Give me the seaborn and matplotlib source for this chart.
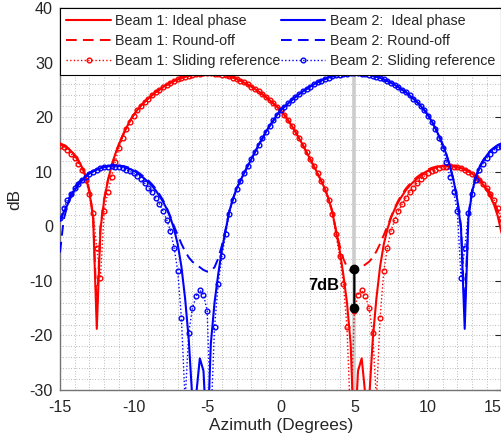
import matplotlib
matplotlib.use("Agg")
import matplotlib.pyplot as plt
from matplotlib.ticker import MultipleLocator
import pandas as pd
import seaborn as sns

# ---------------- data ----------------
AZ_BEAM1 = [
    -15.0, -14.75, -14.5, -14.25, -14.0, -13.75, -13.5, -13.25,
    -13.0, -12.75, -12.5, -12.25, -12.0, -11.75, -11.5, -11.25,
    -11.0, -10.75, -10.5, -10.25, -10.0, -9.75, -9.5, -9.25,
    -9.0, -8.75, -8.5, -8.25, -8.0, -7.75, -7.5, -7.25,
    -7.0, -6.75, -6.5, -6.25, -6.0, -5.75, -5.5, -5.25,
    -5.0, -4.75, -4.5, -4.25, -4.0, -3.75, -3.5, -3.25,
    -3.0, -2.75, -2.5, -2.25, -2.0, -1.75, -1.5, -1.25,
    -1.0, -0.75, -0.5, -0.25, 0.0, 0.25, 0.5, 0.75,
    1.0, 1.25, 1.5, 1.75, 2.0, 2.25, 2.5, 2.75,
    3.0, 3.25, 3.5, 3.75, 4.0, 4.25, 4.5, 4.75,
    5.0, 5.25, 5.5, 5.75, 6.0, 6.25, 6.5, 6.75,
    7.0, 7.25, 7.5, 7.75, 8.0, 8.25, 8.5, 8.75,
    9.0, 9.25, 9.5, 9.75, 10.0, 10.25, 10.5, 10.75,
    11.0, 11.25, 11.5, 11.75, 12.0, 12.25, 12.5, 12.75,
    13.0, 13.25, 13.5, 13.75, 14.0, 14.25, 14.5, 14.75,
    15.0,
]

B1_IDEAL = [
    15.2, 14.9, 14.4, 13.8, 13.0, 12.0, 10.8, 9.0,
    6.3, 1.5, -18.8, -0.5, 4.8, 8.3, 11.0, 13.2,
    15.0, 16.6, 18.0, 19.3, 20.4, 21.3, 22.1, 22.8,
    23.4, 24.0, 24.6, 25.0, 25.5, 25.9, 26.3, 26.6,
    26.9, 27.2, 27.4, 27.6, 27.75, 27.85, 27.95, 28.0,
    28.0, 28.0, 27.95, 27.9, 27.8, 27.65, 27.45, 27.25,
    27.0, 26.7, 26.35, 26.0, 25.6, 25.15, 24.7, 24.2,
    23.7, 23.1, 22.5, 21.9, 21.3, 20.4, 19.4, 18.4,
    17.3, 16.1, 14.9, 13.6, 12.3, 11.0, 9.7, 8.3,
    6.9, 5.0, 2.7, -0.8, -4.3, -8.8, -14.0, -21.5,
    -40.0, -26.5, -24.2, -31.0, -32.0, -20.8, -13.2, -7.4,
    -3.3, -0.5, 1.6, 3.2, 4.5, 5.6, 6.6, 7.4,
    8.1, 8.7, 9.3, 9.8, 10.2, 10.5, 10.8, 10.95,
    11.05, 11.1, 11.1, 11.0, 10.85, 10.65, 10.4, 10.05,
    9.65, 9.1, 8.4, 7.6, 6.6, 5.4, 3.9, 1.8,
    -1.2,
]

B1_ROUND = [
    15.0, 14.8, 14.4, 13.9, 13.1, 12.1, 10.9, 9.2,
    6.6, 2.0, -15.5, 0.0, 5.0, 8.4, 11.0, 13.2,
    15.0, 16.6, 18.0, 19.3, 20.4, 21.3, 22.1, 22.8,
    23.4, 24.0, 24.6, 25.0, 25.5, 25.9, 26.3, 26.6,
    26.9, 27.2, 27.4, 27.6, 27.75, 27.85, 27.95, 28.0,
    28.0, 28.0, 27.95, 27.9, 27.8, 27.65, 27.45, 27.25,
    27.0, 26.7, 26.35, 26.0, 25.6, 25.15, 24.7, 24.2,
    23.7, 23.1, 22.5, 21.9, 21.3, 20.4, 19.4, 18.4,
    17.3, 16.1, 14.9, 13.6, 12.3, 11.0, 9.7, 8.3,
    6.9, 5.0, 2.8, -0.6, -3.5, -5.9, -7.5, -8.2,
    -8.3, -8.0, -7.5, -7.0, -6.5, -5.7, -4.6, -3.2,
    -1.6, 0.0, 1.8, 3.4, 4.8, 5.9, 6.9, 7.7,
    8.4, 9.0, 9.5, 10.0, 10.4, 10.7, 10.9, 11.05,
    11.1, 11.15, 11.1, 11.0, 10.9, 10.7, 10.45, 10.15,
    9.8, 9.3, 8.7, 8.0, 7.1, 6.0, 4.6, 2.8,
    0.6,
]

B1_SLIDE = [
    14.8, 14.5, 14.0, 13.3, 12.5, 11.5, 10.3, 8.5,
    5.9, 2.4, -4.0, -9.5, 2.8, 6.2, 9.0, 11.8,
    14.3, 16.2, 17.8, 19.2, 20.3, 21.3, 22.1, 22.8,
    23.4, 24.0, 24.6, 25.0, 25.5, 25.9, 26.3, 26.6,
    26.9, 27.2, 27.4, 27.6, 27.75, 27.85, 27.95, 28.0,
    28.0, 28.0, 27.95, 27.9, 27.8, 27.65, 27.45, 27.25,
    27.0, 26.7, 26.35, 26.0, 25.6, 25.15, 24.7, 24.2,
    23.7, 23.1, 22.5, 21.9, 21.3, 20.4, 19.4, 18.4,
    17.3, 16.1, 14.9, 13.6, 12.3, 11.0, 9.7, 8.3,
    6.8, 4.8, 2.3, -1.5, -5.5, -10.5, -18.5, -36.0,
    -15.5, -12.5, -11.7, -12.8, -15.0, -19.5, -32.0, -16.8,
    -8.2, -3.9, -0.8, 1.2, 2.8, 4.1, 5.2, 6.2,
    7.1, 7.9, 8.6, 9.2, 9.7, 10.1, 10.4, 10.7,
    10.85, 10.95, 11.0, 10.95, 10.8, 10.6, 10.3, 10.0,
    9.6, 9.1, 8.5, 7.8, 7.0, 6.0, 4.8, 3.3,
    1.5,
]

AZ_BEAM2 = [
    15.0, 14.75, 14.5, 14.25, 14.0, 13.75, 13.5, 13.25,
    13.0, 12.75, 12.5, 12.25, 12.0, 11.75, 11.5, 11.25,
    11.0, 10.75, 10.5, 10.25, 10.0, 9.75, 9.5, 9.25,
    9.0, 8.75, 8.5, 8.25, 8.0, 7.75, 7.5, 7.25,
    7.0, 6.75, 6.5, 6.25, 6.0, 5.75, 5.5, 5.25,
    5.0, 4.75, 4.5, 4.25, 4.0, 3.75, 3.5, 3.25,
    3.0, 2.75, 2.5, 2.25, 2.0, 1.75, 1.5, 1.25,
    1.0, 0.75, 0.5, 0.25, 0.0, -0.25, -0.5, -0.75,
    -1.0, -1.25, -1.5, -1.75, -2.0, -2.25, -2.5, -2.75,
    -3.0, -3.25, -3.5, -3.75, -4.0, -4.25, -4.5, -4.75,
    -5.0, -5.25, -5.5, -5.75, -6.0, -6.25, -6.5, -6.75,
    -7.0, -7.25, -7.5, -7.75, -8.0, -8.25, -8.5, -8.75,
    -9.0, -9.25, -9.5, -9.75, -10.0, -10.25, -10.5, -10.75,
    -11.0, -11.25, -11.5, -11.75, -12.0, -12.25, -12.5, -12.75,
    -13.0, -13.25, -13.5, -13.75, -14.0, -14.25, -14.5, -14.75,
    -15.0,
]

B2_IDEAL = [
    15.2, 14.9, 14.4, 13.8, 13.0, 12.0, 10.8, 9.0,
    6.3, 1.5, -18.8, -0.5, 4.8, 8.3, 11.0, 13.2,
    15.0, 16.6, 18.0, 19.3, 20.4, 21.3, 22.1, 22.8,
    23.4, 24.0, 24.6, 25.0, 25.5, 25.9, 26.3, 26.6,
    26.9, 27.2, 27.4, 27.6, 27.75, 27.85, 27.95, 28.0,
    28.0, 28.0, 27.95, 27.9, 27.8, 27.65, 27.45, 27.25,
    27.0, 26.7, 26.35, 26.0, 25.6, 25.15, 24.7, 24.2,
    23.7, 23.1, 22.5, 21.9, 21.3, 20.4, 19.4, 18.4,
    17.3, 16.1, 14.9, 13.6, 12.3, 11.0, 9.7, 8.3,
    6.9, 5.0, 2.7, -0.8, -4.3, -8.8, -14.0, -21.5,
    -40.0, -26.5, -24.2, -31.0, -32.0, -20.8, -13.2, -7.4,
    -3.3, -0.5, 1.6, 3.2, 4.5, 5.6, 6.6, 7.4,
    8.1, 8.7, 9.3, 9.8, 10.2, 10.5, 10.8, 10.95,
    11.05, 11.1, 11.1, 11.0, 10.85, 10.65, 10.4, 10.05,
    9.65, 9.1, 8.4, 7.6, 6.6, 5.4, 3.9, 2.6,
    1.0,
]

B2_ROUND = [
    15.0, 14.8, 14.4, 13.9, 13.1, 12.1, 10.9, 9.2,
    6.6, 2.0, -15.5, 0.0, 5.0, 8.4, 11.0, 13.2,
    15.0, 16.6, 18.0, 19.3, 20.4, 21.3, 22.1, 22.8,
    23.4, 24.0, 24.6, 25.0, 25.5, 25.9, 26.3, 26.6,
    26.9, 27.2, 27.4, 27.6, 27.75, 27.85, 27.95, 28.0,
    28.0, 28.0, 27.95, 27.9, 27.8, 27.65, 27.45, 27.25,
    27.0, 26.7, 26.35, 26.0, 25.6, 25.15, 24.7, 24.2,
    23.7, 23.1, 22.5, 21.9, 21.3, 20.4, 19.4, 18.4,
    17.3, 16.1, 14.9, 13.6, 12.3, 11.0, 9.7, 8.3,
    6.9, 5.0, 2.8, -0.6, -3.5, -5.9, -7.5, -8.2,
    -8.3, -8.0, -7.5, -7.0, -6.5, -5.7, -4.6, -3.2,
    -1.6, 0.0, 1.8, 3.4, 4.8, 5.9, 6.9, 7.7,
    8.4, 9.0, 9.5, 10.0, 10.4, 10.7, 10.9, 11.05,
    11.1, 11.15, 11.1, 11.0, 10.9, 10.7, 10.45, 10.15,
    9.8, 9.3, 8.7, 8.0, 7.1, 6.0, 3.8, 1.2,
    -4.8,
]

B2_SLIDE = [
    14.8, 14.5, 14.0, 13.3, 12.5, 11.5, 10.3, 8.5,
    5.9, 2.4, -4.0, -9.5, 2.8, 6.2, 9.0, 11.8,
    14.3, 16.2, 17.8, 19.2, 20.3, 21.3, 22.1, 22.8,
    23.4, 24.0, 24.6, 25.0, 25.5, 25.9, 26.3, 26.6,
    26.9, 27.2, 27.4, 27.6, 27.75, 27.85, 27.95, 28.0,
    28.0, 28.0, 27.95, 27.9, 27.8, 27.65, 27.45, 27.25,
    27.0, 26.7, 26.35, 26.0, 25.6, 25.15, 24.7, 24.2,
    23.7, 23.1, 22.5, 21.9, 21.3, 20.4, 19.4, 18.4,
    17.3, 16.1, 14.9, 13.6, 12.3, 11.0, 9.7, 8.3,
    6.8, 4.8, 2.3, -1.5, -5.5, -10.5, -18.5, -36.0,
    -15.5, -12.5, -11.7, -12.8, -15.0, -19.5, -32.0, -16.8,
    -8.2, -3.9, -0.8, 1.2, 2.8, 4.1, 5.2, 6.2,
    7.1, 7.9, 8.6, 9.2, 9.7, 10.1, 10.4, 10.7,
    10.85, 10.95, 11.0, 10.95, 10.8, 10.6, 10.3, 10.0,
    9.6, 9.1, 8.5, 7.8, 7.0, 6.0, 4.8, 3.3,
    1.5,
]

LABELS = [
    "Beam 1: Ideal phase", "Beam 1: Round-off", "Beam 1: Sliding reference",
    "Beam 2:  Ideal phase", "Beam 2: Round-off", "Beam 2: Sliding reference",
]
X_TICKS = [-15, -10, -5, 0, 5, 10, 15]
Y_TICKS = [-30, -20, -10, 0, 10, 20, 30, 40]

STEER_B2 = 5.0          # beam-2 direction (grey marker line)
PEAK_DB = 28.0
ROUND_AT_STEER = -7.9   # beam-1 round-off level at 5 deg
SLIDE_AT_STEER = -15.0  # beam-1 sliding-reference level at 5 deg
GAP_TEXT = "7dB"

# ---------------- styling ----------------
sns.set_theme(style="white")
plt.rcParams["font.family"] = ["Liberation Sans", "DejaVu Sans"]
plt.rcParams["axes.unicode_minus"] = False

fig = plt.figure(figsize=(5.02, 4.36), dpi=100)
ax = fig.add_axes([60 / 502, 46 / 436, 441.5 / 502, 382 / 436])

RED = (1.0, 0.0, 0.0)
BLUE = (0.0, 0.0, 1.0)

# grey steering line
ax.plot([STEER_B2, STEER_B2], [-30, PEAK_DB], color="0.8", lw=2.6, zorder=1.5,
        solid_capstyle="butt")

series = [
    (AZ_BEAM1, B1_IDEAL, RED, "ideal", LABELS[0]),
    (AZ_BEAM1, B1_ROUND, RED, "round", LABELS[1]),
    (AZ_BEAM1, B1_SLIDE, RED, "slide", LABELS[2]),
    (AZ_BEAM2, B2_IDEAL, BLUE, "ideal", LABELS[3]),
    (AZ_BEAM2, B2_ROUND, BLUE, "round", LABELS[4]),
    (AZ_BEAM2, B2_SLIDE, BLUE, "slide", LABELS[5]),
]

for i, (xs, ys, col, kind, lab) in enumerate(series):
    df = pd.DataFrame({"az": xs, "db": ys})
    kw = dict(data=df, x="az", y="db", ax=ax, color=col, label=lab,
              estimator=None, zorder=3 + i * 0.1)
    if kind == "ideal":
        sns.lineplot(**kw, lw=1.5, linestyle="-")
    elif kind == "round":
        sns.lineplot(**kw, lw=1.4, dashes=False, linestyle=(0, (5.5, 3.2)))
    else:
        sns.lineplot(**kw, lw=1.0, linestyle=(0, (1, 1.6)), marker="o",
                     markersize=3.4, markerfacecolor="none",
                     markeredgecolor=col, markeredgewidth=1.0)

# 7 dB annotation
ax.annotate("", xy=(STEER_B2, ROUND_AT_STEER + 0.9), xytext=(STEER_B2, SLIDE_AT_STEER - 0.9),
            arrowprops=dict(arrowstyle="<|-|>", color="black", lw=1.6,
                            shrinkA=0, shrinkB=0, mutation_scale=9),
            zorder=6)
ax.plot([STEER_B2, STEER_B2], [ROUND_AT_STEER, SLIDE_AT_STEER], "o",
        color="black", ms=6, zorder=7)
ax.text(4.0, -10.8, GAP_TEXT, ha="right", va="center", fontsize=11.8,
        fontweight="bold", color="black", zorder=7)

ax.set_xlim(-15, 15)
ax.set_ylim(-30, 40)
ax.set_xticks(X_TICKS)
ax.set_yticks(Y_TICKS)
ax.xaxis.set_minor_locator(MultipleLocator(1))
ax.yaxis.set_minor_locator(MultipleLocator(2))
ax.grid(True, which="both", linestyle=(0, (1, 2.2)), color="0.65", lw=0.6)
ax.set_axisbelow(True)
ax.tick_params(which="major", direction="in", top=True, right=True, length=4,
               width=0.8, colors="0.15", labelsize=11.6)
ax.tick_params(axis="x", which="major", pad=7.5)
ax.tick_params(axis="y", which="major", pad=5)
ax.tick_params(which="minor", length=0)
xt = ax.get_xticklabels()
xt[-1].set_horizontalalignment("right")
for s in ax.spines.values():
    s.set_color("0.45")
    s.set_linewidth(1.0)

ax.set_xlabel("Azimuth (Degrees)", fontsize=12.4, color="0.15", labelpad=1.5)
ax.set_ylabel("dB", fontsize=12.4, color="0.15", labelpad=5)

handles, labels = ax.get_legend_handles_labels()
leg = ax.legend(handles, labels, loc="upper left", bbox_to_anchor=(0, 0, 1, 1),
                mode="expand", ncol=2, frameon=True, fancybox=False,
                edgecolor="black", framealpha=1, borderaxespad=0,
                handlelength=3.1, handletextpad=0.3, labelspacing=0.42,
                borderpad=0.45, columnspacing=0.8, fontsize=10.3, numpoints=1)
leg.get_frame().set_linewidth(0.8)
leg.set_zorder(10)

fig.savefig("out.png", dpi=100)
